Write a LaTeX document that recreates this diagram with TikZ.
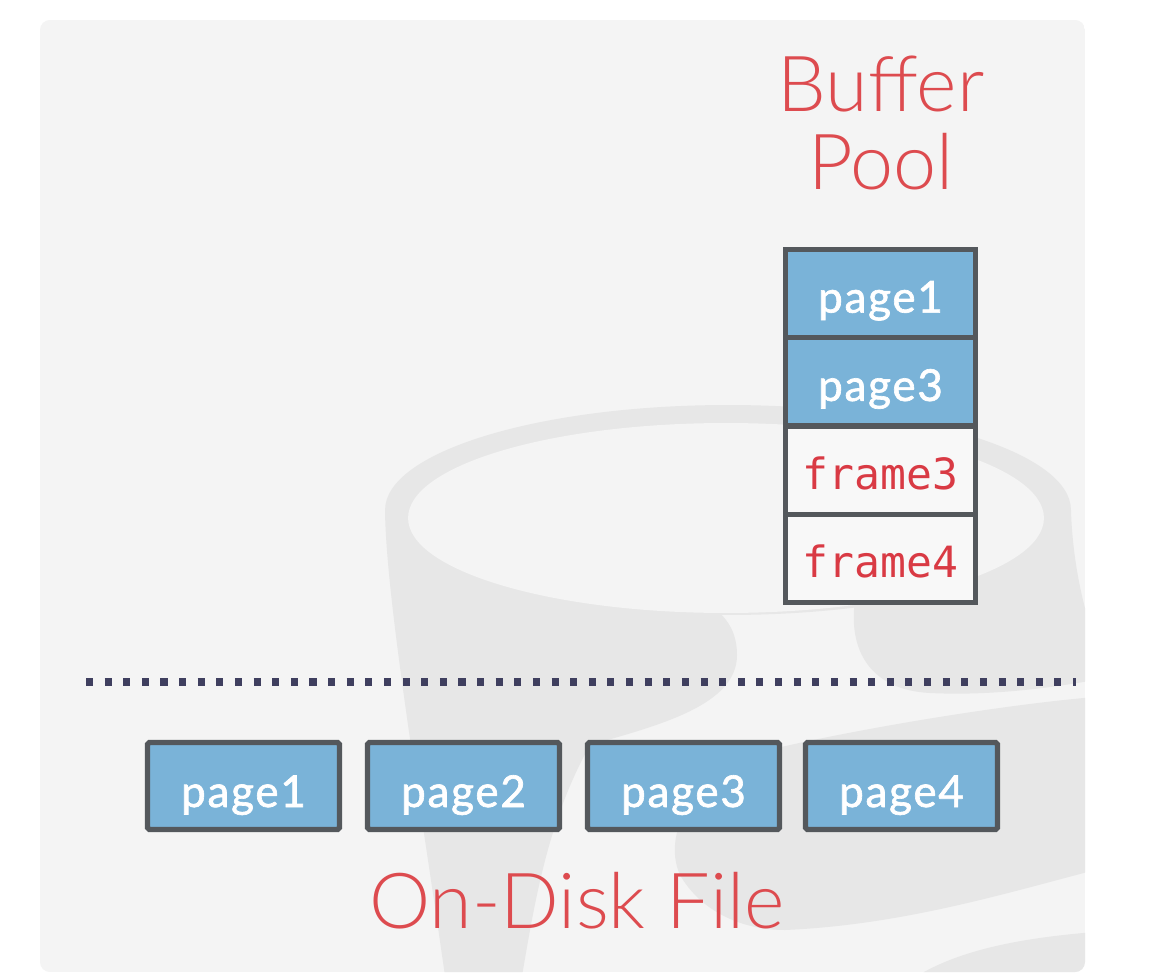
\documentclass[tikz,border=0pt]{standalone}
\usepackage{fontspec}
\setmainfont{Lato}
\newfontfamily\lightfont{Lato Light}
\newfontfamily\boxfont{Lato}[LetterSpace=4, FakeBold=1.5]
\newfontfamily\framefont{DejaVu Sans Mono}
\definecolor{panel}{HTML}{F4F4F4}
\definecolor{wm}{HTML}{E7E7E7}
\definecolor{edge}{HTML}{54585C}
\definecolor{pageblue}{HTML}{7AB3D8}
\definecolor{cellwhite}{HTML}{F8F8F8}
\definecolor{titlered}{HTML}{DD4B4F}
\definecolor{framered}{HTML}{D93A44}
\definecolor{dotcol}{HTML}{3F3F5F}
\begin{document}
\begin{tikzpicture}[x=0.02cm,y=-0.02cm,
  cellbox/.style={draw=edge, line width=3pt, minimum width=3.8cm, minimum height=1.765cm, inner sep=0pt, text height=0.76cm, text depth=0cm},
  fullcell/.style={cellbox, fill=pageblue, text=white, font=\boxfont\fontsize{25}{26}\selectfont},
  emptycell/.style={cellbox, fill=cellwhite, text=framered, font=\framefont\fontsize{24.5}{26}\selectfont},
  diskpage/.style={draw=edge, line width=3pt, fill=pageblue, text=white, minimum width=3.84cm, minimum height=1.74cm, inner sep=0pt, text height=0.84cm, text depth=0cm, rounded corners=1pt, font=\boxfont\fontsize{25}{26}\selectfont},
  bigtitle/.style={text=titlered, font=\lightfont\fontsize{44}{44}\selectfont, inner sep=0pt, anchor=base},
  sepline/.style={draw=dotcol, line width=4pt, dash pattern=on 4pt off 6.6pt}
]
\useasboundingbox (0,0) rectangle (1149,976);
\fill[white] (0,0) rectangle (1149,976);
\begin{scope}
  \path[clip, rounded corners=0.2cm] (40,20) rectangle (1085,972);
  \fill[panel] (40,20) rectangle (1085,972);
  % watermark: left column with bump
  \fill[wm] (385,510) .. controls (386,600) and (420,800) .. (445,976)
     -- (522,976) .. controls (535,900) and (548,820) .. (590,745)
     .. controls (660,725) and (737,705) .. (737,655)
     .. controls (737,625) and (720,610) .. (700,600) -- cycle;
  % right bump / column
  \fill[wm] (855,600) .. controls (848,650) and (870,690) .. (930,693)
     .. controls (990,696) and (1050,688) .. (1095,680)
     -- (1095,640) .. controls (1080,600) and (1072,550) .. (1071,510) -- cycle;
  % middle swoosh band
  \fill[wm] (1095,697) .. controls (1000,705) and (850,730) .. (760,752)
     .. controls (700,770) and (660,830) .. (680,875)
     .. controls (700,910) and (740,930) .. (785,930)
     .. controls (900,925) and (1000,895) .. (1095,870) -- cycle;
  % bottom right piece
  \fill[wm] (917,976) .. controls (960,950) and (1020,938) .. (1095,932) -- (1095,980) -- (917,980) -- cycle;
  % ring
  \fill[wm] (728,510) ellipse [x radius=6.86cm, y radius=2.1cm];
  \fill[panel] (726,518) ellipse [x radius=6.36cm, y radius=1.9cm];
\end{scope}
% buffer pool
\node[bigtitle] (t1) at (881,112) {Buffer};
\node[bigtitle] (t2) at (881,190) {Pool};
\node[fullcell] (b1) at (880.5,293.6) {page1};
\node[fullcell] (b2) at (880.5,381.9) {page3};
\node[emptycell] (b3) at (880.5,470.1) {frame3};
\node[emptycell] (b4) at (880.5,558.4) {frame4};
% separator
\coordinate (sepL) at (86,682);
\coordinate (sepR) at (1076,682);
\draw[sepline] (sepL) -- (sepR);
% disk file
\node[diskpage] (d1) at (243.5,786) {page1};
\node[diskpage] (d2) at (463.5,786) {page2};
\node[diskpage] (d3) at (683.5,786) {page3};
\node[diskpage] (d4) at (901.5,786) {page4};
\node[bigtitle] (t3) at (577,928) {On-Disk File};
\end{tikzpicture}
\end{document}
